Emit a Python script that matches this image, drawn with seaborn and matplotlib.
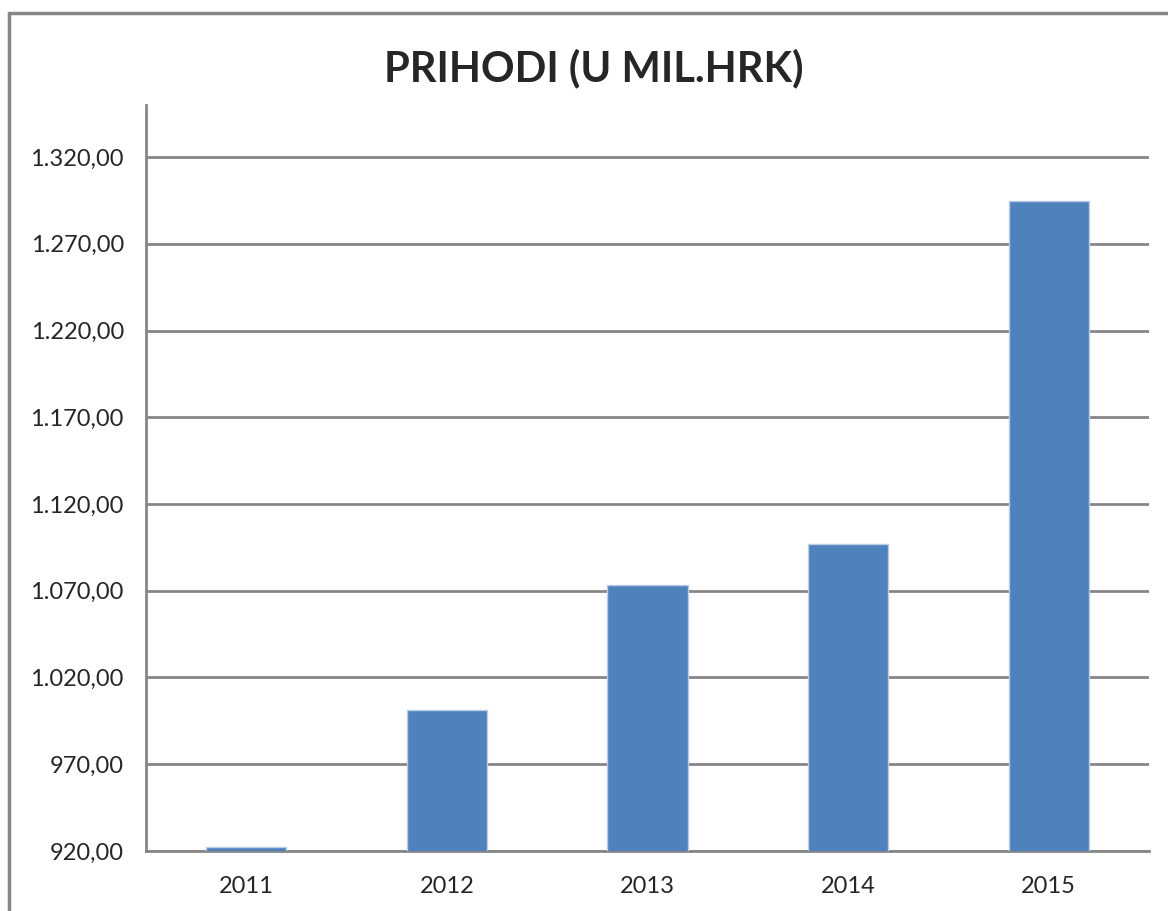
import numpy as np
import pandas as pd
import matplotlib
matplotlib.use("Agg")
import matplotlib.pyplot as plt
from matplotlib.ticker import FuncFormatter
from matplotlib.lines import Line2D
import seaborn as sns

# ==========================
# DATOS
# ==========================
godine = ["2011", "2012", "2013", "2014", "2015"]
prihodi = [922.1, 1001.3, 1073.4, 1097.0, 1294.4]
y_ticks = [920, 970, 1020, 1070, 1120, 1170, 1220, 1270, 1320]

df = pd.DataFrame({"godina": godine, "prihod": prihodi})

# ==========================
# STIL
# ==========================
sns.set_style("white")
plt.rcParams["font.family"] = ["Lato", "DejaVu Sans"]

siva = "#868686"

fig = plt.figure(figsize=(11.68, 9.11), dpi=100)
ax = fig.add_axes([0.125, 0.0659, 0.8588, 0.8188])

sns.barplot(data=df, x="godina", y="prihod", color="#4F81BD", width=0.4,
            edgecolor="#B9CDE5", linewidth=1, ax=ax, saturation=1, zorder=3)

# Osi
ax.set_ylim(920, 1350)
ax.set_xlim(-0.5, len(godine) - 0.5)
ax.set_yticks(y_ticks)
ax.yaxis.set_major_formatter(FuncFormatter(
    lambda v, p: f"{v:,.2f}".replace(",", "X").replace(".", ",").replace("X", ".")))
ax.yaxis.grid(True, color=siva, linewidth=2, zorder=0)
ax.set_axisbelow(True)

# Kvacice na x osi izmedju kategorija
ax.set_xticks(np.arange(-0.5, len(godine)), minor=True)
ax.tick_params(axis="x", which="major", length=0, pad=18, labelsize=17)
ax.tick_params(axis="x", which="minor", length=9, width=2, color=siva, direction="out")
ax.tick_params(axis="y", length=8, width=2, color=siva, labelsize=17, pad=8)

for s in ["top", "right"]:
    ax.spines[s].set_visible(False)
for s in ["left", "bottom"]:
    ax.spines[s].set_color(siva)
    ax.spines[s].set_linewidth(2)

ax.set_xlabel("")
ax.set_ylabel("")

fig.text(0.5086, 0.925, "PRIHODI (U MIL.HRK)", ha="center", va="center",
         fontsize=30, fontweight="bold")

# Okvir grafikona
fig.add_artist(Line2D([9 / 1168, 9 / 1168], [0, 1 - 13 / 911], color=siva, linewidth=2.5,
                      transform=fig.transFigure))
fig.add_artist(Line2D([9 / 1168, 1], [1 - 13 / 911, 1 - 13 / 911], color=siva, linewidth=2.5,
                      transform=fig.transFigure))

fig.savefig("out.png", dpi=100)
